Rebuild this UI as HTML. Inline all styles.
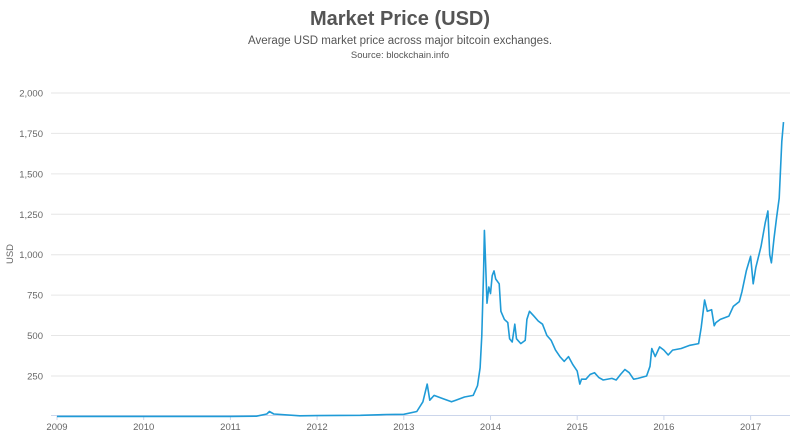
<!DOCTYPE html>
<html><head><meta charset="utf-8">
<style>
body{margin:0;background:#fff;font-family:"Liberation Sans",sans-serif;}
svg text{font-family:"Liberation Sans",sans-serif;}
</style></head>
<body>
<svg width="800" height="438" viewBox="0 0 800 438">
<text x="400" y="25" text-anchor="middle" font-size="20" fill="#555" font-weight="bold">Market Price (USD)</text>
<text x="400" y="44" text-anchor="middle" font-size="11.5" fill="#555">Average USD market price across major bitcoin exchanges.</text>
<text x="400" y="58" text-anchor="middle" font-size="9.5" fill="#555">Source: blockchain.info</text>
<text transform="translate(13,254) rotate(-90)" text-anchor="middle" font-size="9.5" fill="#666">USD</text>
<g id="grid"></g><g id="axes"></g><g id="series"></g>
</svg>
<script>
const yTicks=[250,500,750,1000,1250,1500,1750,2000];
const xTicks=[2009,2010,2011,2012,2013,2014,2015,2016,2017];
const dates=[2009,2010.5,2010.6,2011.0,2011.3,2011.42,2011.45,2011.5,2011.8,2012.0,2012.5,2012.8,2013.0,2013.15,2013.22,2013.27,2013.3,2013.35,2013.45,2013.55,2013.6,2013.7,2013.8,2013.85,2013.88,2013.9,2013.92,2013.93,2013.94,2013.96,2013.98,2014.0,2014.02,2014.04,2014.06,2014.1,2014.12,2014.16,2014.2,2014.22,2014.25,2014.28,2014.3,2014.35,2014.4,2014.42,2014.45,2014.5,2014.55,2014.6,2014.65,2014.7,2014.75,2014.8,2014.85,2014.9,2014.95,2015.0,2015.03,2015.05,2015.1,2015.15,2015.2,2015.25,2015.3,2015.4,2015.45,2015.5,2015.55,2015.6,2015.65,2015.7,2015.8,2015.84,2015.86,2015.9,2015.95,2016.0,2016.05,2016.1,2016.2,2016.3,2016.4,2016.43,2016.47,2016.5,2016.55,2016.58,2016.6,2016.65,2016.75,2016.8,2016.87,2016.9,2016.95,2017.0,2017.03,2017.06,2017.12,2017.17,2017.2,2017.22,2017.24,2017.27,2017.3,2017.33,2017.36,2017.38];
const prices=[0,0,0.07,0.3,1,15,30,15,4,5,7,12,13,30,90,200,100,130,110,90,100,120,130,190,300,500,900,1150,1000,700,800,760,870,900,850,820,650,600,580,480,460,570,480,450,470,600,650,620,590,570,500,470,410,370,340,370,320,280,200,230,230,260,270,240,225,235,225,260,290,270,230,235,250,310,420,370,430,410,380,410,420,440,450,550,720,650,660,560,580,600,620,680,710,770,900,990,820,920,1050,1200,1270,1000,950,1100,1230,1350,1700,1820];
const NS="http://www.w3.org/2000/svg";
const X0=51,X1=790;
const xS=v=>57+(v-2009)*86.7;
const yS=v=>416.4-v*0.1617;
function mk(t,a,p){const e=document.createElementNS(NS,t);for(const k in a)e.setAttribute(k,a[k]);p.appendChild(e);return e;}
const grid=document.getElementById('grid'),axes=document.getElementById('axes'),ser=document.getElementById('series');
yTicks.forEach(v=>{
 const l=mk('line',{x1:X0,x2:X1,y1:yS(v),y2:yS(v),stroke:'#e6e6e6','stroke-width':1},grid);
 
 
 const t=mk('text',{x:43,y:yS(v)+3.5,'text-anchor':'end','font-size':9.5,fill:'#666'},axes);
 t.textContent=v.toLocaleString('en-US');
 
 
});
const ax=mk('line',{x1:X0,x2:X1,y1:415.5,y2:415.5,stroke:'#ccd6eb','stroke-width':1},axes);


xTicks.forEach(v=>{
 const tk=mk('line',{x1:xS(v),x2:xS(v),y1:415.5,y2:420,stroke:'#ccd6eb'},axes);
 
 
 const t=mk('text',{x:xS(v),y:430,'text-anchor':'middle','font-size':9.5,fill:'#666'},axes);
 t.textContent=v;
 
 
});
const d=dates.map((v,i)=>(i?'L':'M')+xS(v).toFixed(1)+' '+yS(prices[i]).toFixed(1)).join(' ');
const p=mk('path',{d:d,fill:'none',stroke:'#1f9bd7','stroke-width':1.6,'stroke-linejoin':'round'},ser);


</script>
</body></html>
